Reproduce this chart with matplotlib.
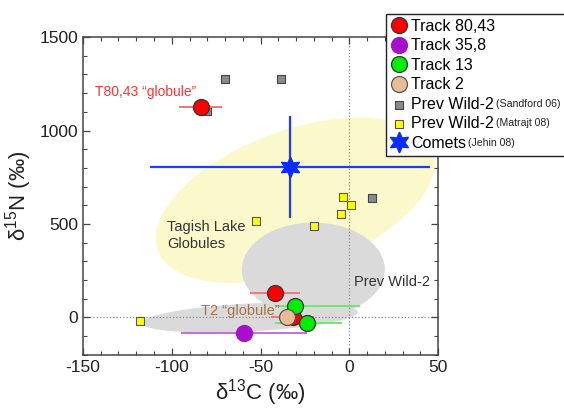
import matplotlib

matplotlib.use("Agg")
import matplotlib.pyplot as plt  # noqa: E402
from matplotlib.patches import Ellipse, Rectangle  # noqa: E402
from matplotlib.transforms import ScaledTranslation  # noqa: E402
from matplotlib.ticker import MultipleLocator  # noqa: E402

plt.rcParams["font.family"] = ["Liberation Sans", "DejaVu Sans"]
plt.rcParams["mathtext.default"] = "regular"
plt.rcParams["axes.unicode_minus"] = False

# Stardust track measurements (delta 13C, delta 15N, x error)
track_80_c = [-83.8, -41.9, -32.0]
track_80_n = [1127, 133, 5]
track_80_cerr = [12, 14, 12]

track_35_c = [-59.4]
track_35_n = [-85]
track_35_cerr = [35.5]

track_13_c = [-30.6, -23.8]
track_13_n = [59, -27]
track_13_cerr_lo = [11.5, 18.2]
track_13_cerr_hi = [36.6, 19.8]

track_2_c = [-35.0]
track_2_n = [0]

sandford_c = [-70.0, -38.5, -80.4, 13.0]
sandford_n = [1276, 1276, 1105, 641]

matrajt_c = [-3.4, 1.1, -5.0, -52.6, -19.8, -117.7]
matrajt_n = [646, 603, 555, 518, 491, -21]

comet_c = [-33.4]
comet_n = [806]
comet_cerr = [79]
comet_nerr = [272]

# shaded regions: centre (data), width, height (inches), angle (deg)
tagish_region = ((-30.4, 627), 2.93, 1.40, 20)
wild2_region = ((-20.3, 256), 1.43, 0.94, 0)
wild2_low_region = ((-56.0, 0), 2.16, 0.28, 3)

fig = plt.figure(figsize=(5.64, 4.16), dpi=100)
ax = fig.add_axes([0.147, 0.147, 0.63, 0.764])
ax.set_xlim(-150, 50)
ax.set_ylim(-200, 1500)


def add_region(region, color):
    centre, width, height, angle = region
    tr = fig.dpi_scale_trans + ScaledTranslation(centre[0], centre[1], ax.transData)
    ax.add_patch(Ellipse((0, 0), width, height, angle=angle, transform=tr,
                         facecolor=color, edgecolor="none", zorder=1))


add_region(tagish_region, "#fbf9cb")
add_region(wild2_region, "#dadada")
add_region(wild2_low_region, "#dadada")

ax.axvline(0, color="#888888", ls=":", lw=0.9, zorder=1.5)
ax.axhline(0, color="#888888", ls=":", lw=0.9, zorder=1.5)

ax.errorbar(comet_c, comet_n, xerr=comet_cerr, yerr=comet_nerr, fmt="none",
            ecolor="#1a3cff", elinewidth=1.6, capsize=0, zorder=2)

ax.scatter(sandford_c, sandford_n, marker="s", s=36, facecolor="#8a8a8a",
           edgecolor="#444444", linewidth=0.8, zorder=3, label="Prev Wild-2")
ax.scatter(matrajt_c, matrajt_n, marker="s", s=36, facecolor="#ffff00",
           edgecolor="#555555", linewidth=0.8, zorder=3, label="Prev Wild-2")

ax.errorbar(track_80_c, track_80_n, xerr=track_80_cerr, fmt="none",
            ecolor="#f07878", elinewidth=1.4, capsize=0, zorder=3)
ax.errorbar(track_35_c, track_35_n, xerr=track_35_cerr, fmt="none",
            ecolor="#c56be0", elinewidth=1.4, capsize=0, zorder=3)
ax.errorbar(track_13_c, track_13_n, xerr=[track_13_cerr_lo, track_13_cerr_hi],
            fmt="none", ecolor="#6ee86e", elinewidth=1.4, capsize=0, zorder=3)

ax.plot(track_80_c, track_80_n, "o", ms=11.5, mfc="#ff0000", mec="#333333",
        mew=0.9, zorder=4, label="Track 80,43")
ax.plot(track_35_c, track_35_n, "o", ms=11.5, mfc="#a80fcc", mec="#a80fcc",
        mew=0.9, zorder=4, label="Track 35,8")
ax.plot(track_13_c, track_13_n, "o", ms=11.5, mfc="#00ee00", mec="#333333",
        mew=0.9, zorder=4, label="Track 13")
ax.plot(track_2_c, track_2_n, "o", ms=11.5, mfc="#e8bc96", mec="#555555",
        mew=0.9, zorder=5, label="Track 2")
ax.plot(comet_c, comet_n, marker=(6, 1, 0), ls="none", ms=15, mfc="#0a2cff",
        mec="#0a2cff", zorder=5, label="Comets")

ax.text(-115, 1207, "T80,43 \u201cglobule\u201d", color="#ff3333", fontsize=10,
        ha="center", va="center", zorder=6)
ax.text(-102.5, 440, "Tagish Lake\nGlobules", color="#333333", fontsize=10.5,
        ha="left", va="center", linespacing=1.3, zorder=6)
ax.text(2.8, 187, "Prev Wild-2", color="#333333", fontsize=10.5,
        ha="left", va="center", zorder=6)
ax.text(-61.5, 32, "T2 \u201cglobule\u201d", color="#a47345", fontsize=10.5,
        ha="center", va="center", zorder=3.5)

ax.set_xlabel("\u03b4$^{13}$C (‰)", fontsize=16, color="#222222", labelpad=2)
ax.set_ylabel("\u03b4$^{15}$N (‰)", fontsize=16, color="#222222", labelpad=4)

ax.xaxis.set_major_locator(MultipleLocator(50))
ax.xaxis.set_minor_locator(MultipleLocator(10))
ax.yaxis.set_major_locator(MultipleLocator(500))
ax.yaxis.set_minor_locator(MultipleLocator(100))
ax.tick_params(which="both", direction="in", top=True, right=True,
               colors="#444444", labelcolor="#222222", labelsize=12.5)
ax.tick_params(which="major", length=5, width=0.9)
ax.tick_params(which="minor", length=3, width=0.8)
for spine in ax.spines.values():
    spine.set_color("#444444")
    spine.set_linewidth(1.1)

handles, labels = ax.get_legend_handles_labels()
order = [2, 3, 4, 5, 0, 1, 6]
leg = fig.legend([handles[i] for i in order], [labels[i] for i in order],
                 loc="upper left", bbox_to_anchor=(0.684, 0.966),
                 bbox_transform=fig.transFigure, borderaxespad=0, fontsize=11.5,
                 frameon=False, handlelength=1.0, handletextpad=0.3,
                 labelspacing=0.28, borderpad=0.3)
leg.set_zorder(10)

# legend frame and small source notes, placed once the layout is known
fig.canvas.draw()
renderer = fig.canvas.get_renderer()
fig_w, fig_h = fig.bbox.width, fig.bbox.height
leg_box = leg.get_window_extent(renderer)
fig.add_artist(Rectangle((leg_box.x0 / fig_w, leg_box.y0 / fig_h),
                         1.1 - leg_box.x0 / fig_w, leg_box.height / fig_h,
                         transform=fig.transFigure, facecolor="white",
                         edgecolor="#222222", linewidth=1.0, zorder=9))

texts = leg.get_texts()
label_right = texts[4].get_window_extent(renderer).x1
small_notes = [(4, "(Sandford 06)"), (5, "(Matrajt 08)"), (6, "(Jehin 08)")]
for idx, note in small_notes:
    box = texts[idx].get_window_extent(renderer)
    x_right = label_right if idx != 6 else box.x1
    fig.text((x_right + 2) / fig_w, (box.y0 + 3) / fig_h, note,
             fontsize=7.6, color="#222222", ha="left", va="bottom", zorder=11)

fig.savefig("out.png", dpi=100)
